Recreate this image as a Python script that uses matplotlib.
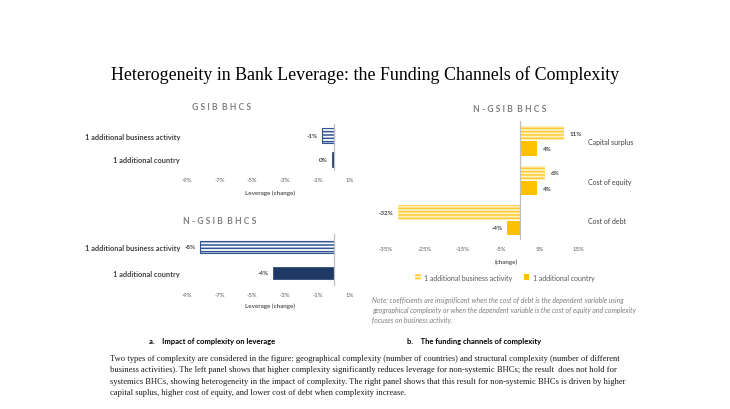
import matplotlib
matplotlib.use('Agg')
import matplotlib.pyplot as plt
from matplotlib.patches import Patch

W, H = 730, 410
plt.rcParams['hatch.linewidth'] = 1.1
SANS = ['Lato', 'DejaVu Sans']
SERIF = ['Liberation Serif', 'DejaVu Serif']

# ---------------- data ----------------
left_categories = ['1 additional country', '1 additional business activity']
gsib_values = [-0.001, -0.007]
ngsib_values = [-0.037, -0.082]
left_ticks = [-0.09, -0.07, -0.05, -0.03, -0.01, 0.01]

right_categories = ['Cost of debt', 'Cost of equity', 'Capital surplus']
right_business = [-0.32, 0.065, 0.114]
right_country = [-0.036, 0.044, 0.044]
right_ticks = [-0.35, -0.25, -0.15, -0.05, 0.05, 0.15]
series_names = ['1 additional business activity', '1 additional country']

title = 'Heterogeneity in Bank Leverage: the Funding Channels of Complexity'
note_lines = [
    'Note: coefficients are insignificant when the cost of debt is the dependent variable using',
    'geographical complexity or when the dependent variable is the cost of equity and complexity',
    'focuses on business activity.',
]
caption_a = 'a.    Impact of complexity on leverage'
caption_b = 'b.    The funding channels of complexity'
paragraph = [
    'Two types of complexity are considered in the figure: geographical complexity (number of countries) and structural complexity (number of different',
    'business activities). The left panel shows that higher complexity significantly reduces leverage for non-systemic BHCs; the result  does not hold for',
    'systemics BHCs, showing heterogeneity in the impact of complexity. The right panel shows that this result for non-systemic BHCs is driven by higher',
    'capital suplus, higher cost of equity, and lower cost of debt when complexity increase.',
]

BLUE = '#2F5597'
NAVY = '#1F3864'
YEL = '#FFC000'
YEL_H = '#FFCC33'
YEL_F = '#FFF0C4'
GREY_T = '#595959'


def pct(v):
    return f"{int(round(v * 100))}%"


fig = plt.figure(figsize=(7.3, 4.1), dpi=100)
fig.patch.set_facecolor('white')


def px_axes(x0, y0, x1, y1):
    return fig.add_axes([x0 / W, 1 - y1 / H, (x1 - x0) / W, (y1 - y0) / H])


def ftext(x, y, s, **kw):
    fig.text(x / W, 1 - y / H, s, **kw)


def style_axes(ax, xlim, ticks):
    ax.set_xlim(*xlim)
    for sp in ax.spines.values():
        sp.set_visible(False)
    ax.set_xticks(ticks)
    ax.set_xticklabels([pct(t) for t in ticks], fontsize=4.3, color=GREY_T, family=SANS)
    ax.tick_params(axis='x', length=0, pad=4)
    ax.axvline(0, color='#BFBFBF', lw=0.9, zorder=3)
    ax.set_facecolor('none')


def left_panel(ax, vals, bar_h):
    style_axes(ax, (-0.09, 0.01), left_ticks)
    ax.set_ylim(-0.5, 1.5)
    ax.barh(1, vals[1], height=bar_h, color='white', edgecolor=BLUE,
            hatch='-----', linewidth=0.8, zorder=2)
    ax.barh(0, vals[0], height=bar_h, color=NAVY, edgecolor=NAVY,
            linewidth=0.5, zorder=2)
    ax.set_yticks([0, 1])
    ax.set_yticklabels(left_categories, fontsize=5.3, color='#404040',
                       family=SANS, fontweight='bold')
    ax.tick_params(axis='y', length=0, pad=5)
    for i, v in enumerate(vals):
        ax.annotate(pct(v), xy=(v, i), xytext=(-3, 0), textcoords='offset points',
                    ha='right', va='center', fontsize=4.5, color='#404040',
                    family=SANS, fontweight='bold')


ax1 = px_axes(187, 125, 350, 172)
left_panel(ax1, gsib_values, 0.64)
ax2 = px_axes(187, 235, 350, 287)
left_panel(ax2, ngsib_values, 0.48)

TKW = dict(ha='center', va='center', fontsize=6.2, color='#808080', family=SANS,
           fontweight='bold')
ftext(222, 108, 'G S I B  B H C S', **TKW)
ftext(220, 222, 'N - G S I B  B H C S', **TKW)
ftext(270, 193, 'Leverage (change)', ha='center', va='center', fontsize=4.5,
      color=GREY_T, family=SANS, fontweight='bold')
ftext(270, 306, 'Leverage (change)', ha='center', va='center', fontsize=4.5,
      color=GREY_T, family=SANS, fontweight='bold')

# right panel
ax3 = px_axes(386, 122, 578, 241)
style_axes(ax3, (-0.35, 0.15), right_ticks)
ax3.set_ylim(-0.5, 2.5)
ys = list(range(len(right_categories)))
bh = 0.36
off = 0.195
ax3.barh([y + off for y in ys], right_business, height=bh, color=YEL_F,
         edgecolor=YEL_H, hatch='-----', linewidth=0, zorder=2)
ax3.barh([y - off for y in ys], right_country, height=bh, color=YEL,
         edgecolor=YEL, linewidth=0, zorder=2)
for y, v in zip(ys, right_business):
    ax3.annotate(pct(v), xy=(v, y + off), xytext=(4 if v > 0 else -3, 0),
                 textcoords='offset points', ha='left' if v > 0 else 'right',
                 va='center', fontsize=4.5, color='#404040', family=SANS,
                 fontweight='bold')
for y, v in zip(ys, right_country):
    ax3.annotate(pct(v), xy=(v, y - off), xytext=(4 if v > 0 else -3, 0),
                 textcoords='offset points', ha='left' if v > 0 else 'right',
                 va='center', fontsize=4.5, color='#404040', family=SANS,
                 fontweight='bold')
ax3.yaxis.tick_right()
ax3.set_yticks(ys)
ax3.set_yticklabels(right_categories, fontsize=5, color='#404040', family=SANS)
ax3.tick_params(axis='y', length=0, pad=7)

ftext(510, 110, 'N - G S I B  B H C S', **TKW)
ftext(506, 262, '(change)', ha='center', va='center', fontsize=4.5,
      color=GREY_T, family=SANS, fontweight='bold')

handles = [Patch(facecolor=YEL_F, edgecolor=YEL_H, hatch='-----', linewidth=0),
           Patch(facecolor=YEL, edgecolor=YEL, linewidth=0)]
leg = fig.legend(handles, series_names, loc='center', bbox_to_anchor=(505 / W, 1 - 278 / H),
                 ncol=2, frameon=False, handlelength=0.8, handleheight=0.8,
                 handletextpad=0.5, columnspacing=1.6,
                 prop={'family': SANS, 'size': 5})
for t in leg.get_texts():
    t.set_color(GREY_T)

for i, line in enumerate(note_lines):
    ftext(372, 301 + i * 9.5, line, ha='left', va='center', fontsize=4.95,
          color='#7F7F7F', family=SANS, style='italic')

# title, captions, paragraph
ftext(365, 75, title, ha='center', va='center', fontsize=12.9, color='black', family=SERIF)
ftext(149, 342, caption_a, ha='left', va='center', fontsize=5.5, color='black',
      family=SANS, fontweight='bold')
ftext(407, 342, caption_b, ha='left', va='center', fontsize=5.5, color='black',
      family=SANS, fontweight='bold')
for i, line in enumerate(paragraph):
    ftext(110, 359 + i * 11.5, line, ha='left', va='center', fontsize=6.15,
          color='#1a1a1a', family=SERIF)

fig.savefig('out.png', dpi=100, facecolor='white')
